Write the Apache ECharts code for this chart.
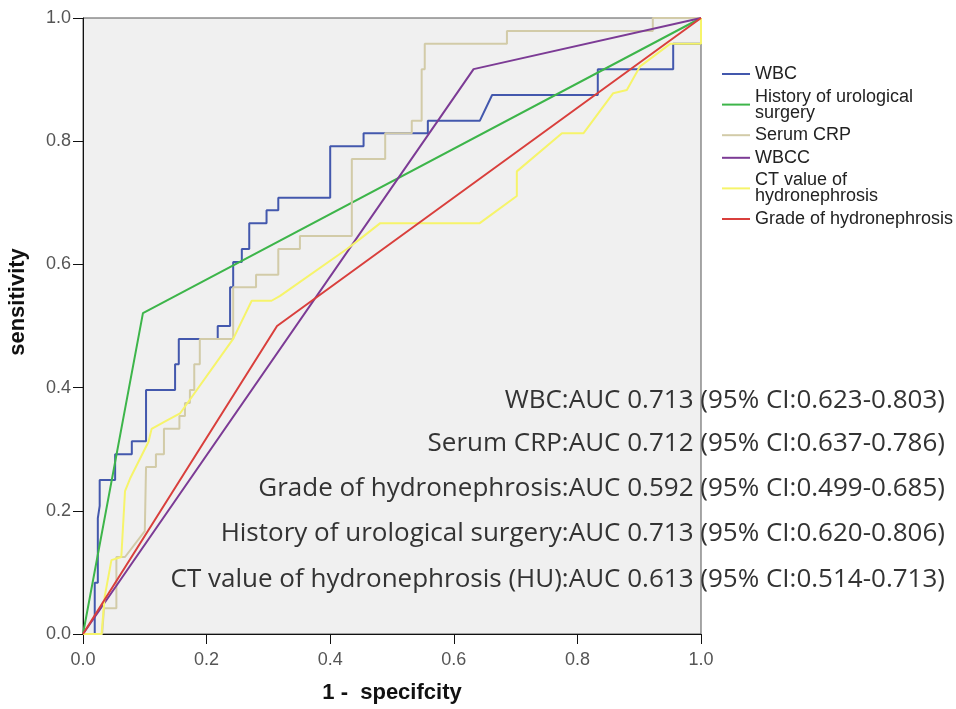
<!DOCTYPE html>
<html>
<head>
<meta charset="utf-8">
<script src="https://cdn.jsdelivr.net/npm/echarts@6/dist/echarts.min.js"></script>
<style>
html,body{margin:0;padding:0;background:#fff;}
#chart{width:956px;height:709px;}
</style>
</head>
<body>
<div id="chart"></div>
<script>
// ---- data ----
const seriesNames = ["WBC", "History of urological surgery", "Serum CRP", "WBCC", "CT value of hydronephrosis", "Grade of hydronephrosis"];
const legendLabels = ["WBC", "History of urological\nsurgery", "Serum CRP", "WBCC", "CT value of\nhydronephrosis", "Grade of hydronephrosis"];
const seriesColors = ["#4358ad", "#3db54a", "#d2cba8", "#7c3b95", "#f6f46a", "#d93f3c"];

const wbcX = [0, 0.019, 0.019, 0.024, 0.024, 0.027, 0.027, 0.052, 0.052, 0.079, 0.079, 0.102, 0.102, 0.149, 0.149, 0.155, 0.155, 0.218, 0.218, 0.238, 0.238, 0.243, 0.243, 0.257, 0.257, 0.269, 0.269, 0.297, 0.297, 0.316, 0.316, 0.400, 0.400, 0.454, 0.454, 0.558, 0.558, 0.642, 0.662, 0.833, 0.833, 0.955, 0.955, 1, 1];
const wbcY = [0, 0, 0.083, 0.083, 0.188, 0.208, 0.250, 0.250, 0.292, 0.292, 0.313, 0.313, 0.396, 0.396, 0.438, 0.438, 0.479, 0.479, 0.500, 0.500, 0.563, 0.563, 0.604, 0.604, 0.625, 0.625, 0.667, 0.667, 0.688, 0.688, 0.708, 0.708, 0.792, 0.792, 0.813, 0.813, 0.833, 0.833, 0.875, 0.875, 0.917, 0.917, 0.958, 0.958, 1];

const surgeryX = [0, 0.097, 1];
const surgeryY = [0, 0.521, 1];

const crpX = [0, 0.031, 0.034, 0.054, 0.054, 0.068, 0.100, 0.102, 0.102, 0.118, 0.118, 0.131, 0.131, 0.156, 0.156, 0.165, 0.165, 0.173, 0.173, 0.180, 0.180, 0.189, 0.189, 0.243, 0.243, 0.280, 0.280, 0.316, 0.316, 0.351, 0.351, 0.435, 0.435, 0.489, 0.489, 0.532, 0.532, 0.548, 0.548, 0.553, 0.553, 0.686, 0.686, 0.922, 0.922, 1];
const crpY = [0, 0, 0.042, 0.042, 0.125, 0.125, 0.167, 0.167, 0.271, 0.271, 0.292, 0.292, 0.333, 0.333, 0.354, 0.354, 0.375, 0.375, 0.396, 0.396, 0.438, 0.438, 0.479, 0.479, 0.563, 0.563, 0.583, 0.583, 0.625, 0.625, 0.646, 0.646, 0.771, 0.771, 0.813, 0.813, 0.833, 0.833, 0.917, 0.917, 0.958, 0.958, 0.979, 0.979, 1, 1];

const wbccX = [0, 0.632, 1];
const wbccY = [0, 0.917, 1];

const ctX = [0, 0.030, 0.035, 0.046, 0.062, 0.068, 0.076, 0.106, 0.111, 0.133, 0.157, 0.243, 0.273, 0.305, 0.319, 0.427, 0.448, 0.481, 0.642, 0.702, 0.702, 0.775, 0.810, 0.858, 0.880, 0.901, 0.950, 1, 1];
const ctY = [0, 0, 0.060, 0.120, 0.125, 0.232, 0.252, 0.312, 0.333, 0.345, 0.358, 0.479, 0.541, 0.541, 0.549, 0.625, 0.641, 0.667, 0.667, 0.711, 0.751, 0.813, 0.813, 0.878, 0.883, 0.921, 0.958, 0.958, 1];

const gradeX = [0, 0.314, 1];
const gradeY = [0, 0.500, 1];

const aucLines = [
  "WBC:AUC 0.713 (95% CI:0.623-0.803)",
  "Serum CRP:AUC 0.712 (95% CI:0.637-0.786)",
  "Grade of hydronephrosis:AUC 0.592 (95% CI:0.499-0.685)",
  "History of urological surgery:AUC 0.713 (95% CI:0.620-0.806)",
  "CT value of hydronephrosis (HU):AUC 0.613 (95% CI:0.514-0.713)"
];
const aucLineY = [401, 444, 489, 534, 580];

// ---- build ----
const xs = [wbcX, surgeryX, crpX, wbccX, ctX, gradeX];
const ys = [wbcY, surgeryY, crpY, wbccY, ctY, gradeY];
const zip = (a, b) => a.map((v, i) => [v, b[i]]);

const chart = echarts.init(document.getElementById('chart'), null, {renderer: 'canvas'});
const labelMap = {};
seriesNames.forEach((n, i) => labelMap[n] = legendLabels[i]);

const option = {
  animation: false,
  backgroundColor: '#ffffff',
  grid: {
    left: 83, right: 255, top: 18, bottom: 73,
    show: true, backgroundColor: '#f0f0f0', borderColor: '#555', borderWidth: 1
  },
  legend: {
    orient: 'vertical',
    left: 722, top: 65,
    padding: 0,
    itemGap: 4.6,
    itemWidth: 28, itemHeight: 2,
    icon: 'rect',
    data: seriesNames,
    formatter: n => labelMap[n],
    textStyle: {fontFamily: 'Liberation Sans, Arial, sans-serif', fontSize: 18, color: '#222', lineHeight: 16}
  },
  xAxis: {
    type: 'value', min: 0, max: 1, interval: 0.2,
    name: '1 -  specifcity', nameLocation: 'middle', nameGap: 48,
    nameTextStyle: {fontFamily: 'Liberation Sans, Arial, sans-serif', fontWeight: 'bold', fontSize: 22, color: '#111'},
    axisLine: {show: true, lineStyle: {color: '#111', width: 1}},
    axisTick: {show: true, length: 10, lineStyle: {color: '#111'}},
    axisLabel: {margin: 17, fontFamily: 'Liberation Sans, Arial, sans-serif', fontSize: 18, color: '#555',
      formatter: v => v.toFixed(1)},
    splitLine: {show: false}
  },
  yAxis: {
    type: 'value', min: 0, max: 1, interval: 0.2,
    axisLine: {show: true, lineStyle: {color: '#111', width: 1}},
    axisTick: {show: true, length: 10, lineStyle: {color: '#111'}},
    axisLabel: {margin: 12, fontFamily: 'Liberation Sans, Arial, sans-serif', fontSize: 18, color: '#555',
      formatter: v => v.toFixed(1)},
    splitLine: {show: false}
  },
  series: seriesNames.map((n, i) => ({
    name: n, type: 'line', data: zip(xs[i], ys[i]),
    showSymbol: false, symbol: 'none',
    lineStyle: {color: seriesColors[i], width: 2},
    itemStyle: {color: seriesColors[i]},
    z: 2 + i
  })),
  graphic: [
    {
      type: 'text', x: 18, y: 302, rotation: Math.PI / 2,
      style: {text: 'sensitivity', fontFamily: 'Liberation Sans, Arial, sans-serif', fontWeight: 'bold', fontSize: 22,
        fill: '#111', textAlign: 'center', textVerticalAlign: 'middle'}
    }
  ].concat(aucLines.map((t, i) => ({
    type: 'text', x: 945, y: aucLineY[i], z: 100,
    style: {text: t, fontFamily: 'Open Sans, Noto Sans, sans-serif', fontSize: 26, fill: '#333',
      textAlign: 'right', textVerticalAlign: 'middle'}
  })))
};
chart.setOption(option);
</script>
</body>
</html>
